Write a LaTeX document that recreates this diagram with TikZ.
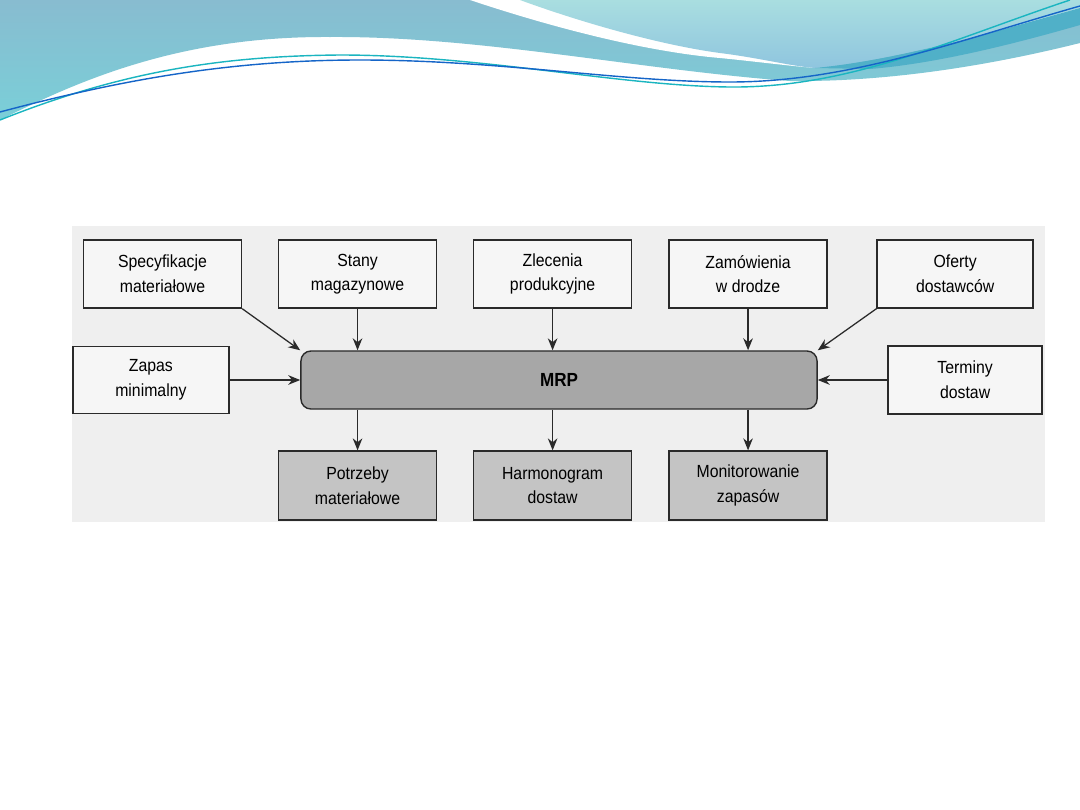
\documentclass[tikz,border=0pt]{standalone}
\usepackage{fontspec}
\setmainfont{Liberation Sans}[FakeStretch=0.9]
\usepackage{tikz}
\usepackage{xcolor}
\usetikzlibrary{arrows.meta,positioning}
\definecolor{WaveBlue}{HTML}{88BCD0}
\definecolor{WaveCyan}{HTML}{7ACFD8}
\definecolor{WaveLight}{HTML}{A9DEE0}
\definecolor{WaveLilac}{HTML}{8FC5DF}
\definecolor{WaveBand}{HTML}{50B0C8}
\definecolor{LineCyan}{HTML}{1AB5C0}
\definecolor{LineBlue}{HTML}{1565C8}
\definecolor{ScanGray}{HTML}{EFEFEF}
\definecolor{BoxWhite}{HTML}{F6F6F6}
\definecolor{OutGray}{HTML}{C4C4C4}
\definecolor{CoreGray}{HTML}{A7A7A7}
\definecolor{InkGray}{HTML}{2A2A2A}

\begin{document}
\begin{tikzpicture}[
  x=0.025cm,y=-0.025cm,
  font=\fontsize{12.5}{17.5}\selectfont,
  inbox/.style={draw=InkGray,fill=BoxWhite,line width=1pt,minimum width=3.95cm,minimum height=1.7cm,align=center,inner sep=1pt},
  outbox/.style={inbox,fill=OutGray,minimum height=1.72cm},
  core/.style={draw=InkGray,fill=CoreGray,line width=1pt,rounded corners=0.25cm,minimum width=12.9cm,minimum height=1.45cm,font=\fontsize{13.5}{14}\selectfont\bfseries},
  arrow/.style={-{Stealth[length=3mm,width=2.4mm]},line width=0.9pt,draw=InkGray}
]
\useasboundingbox (0,0) rectangle (1080,810);
\fill[white] (0,0) rectangle (1080,810);

% slide waves
\shade[top color=WaveBlue,bottom color=WaveCyan] (0,0) -- (1080,0) -- (1080,43)
  .. controls (980,68) and (880,82) .. (790,81)
  .. controls (640,70) and (480,36) .. (330,37)
  .. controls (180,36) and (80,80) .. (0,120) -- cycle;
\fill[white] (470,0) .. controls (560,30) and (650,52) .. (720,58)
  .. controls (760,62) and (790,66) .. (815,68) -- (1080,22) -- (1080,0) -- cycle;
\shade[top color=WaveLight,bottom color=WaveLilac] (520,0) .. controls (580,22) and (660,45) .. (720,53)
  .. controls (760,58) and (790,66) .. (815,68)
  .. controls (900,60) and (1000,30) .. (1080,8) -- (1080,0) -- cycle;
\fill[WaveBand] (815,68) .. controls (900,60) and (1000,30) .. (1080,8) -- (1080,25)
  .. controls (1000,48) and (930,64) .. (870,69) -- cycle;
\draw[LineCyan,line width=1pt] (0,120) .. controls (120,72) and (220,56) .. (340,55)
  .. controls (480,55) and (620,86) .. (730,87)
  .. controls (850,88) and (950,40) .. (1070,0);
\draw[LineBlue,line width=1pt] (0,112) .. controls (120,80) and (230,60) .. (360,60)
  .. controls (500,60) and (620,82) .. (730,82)
  .. controls (850,82) and (960,40) .. (1080,6);

% scanned figure
\fill[ScanGray] (72,226) rectangle (1045,522);

\node[core] (mrp) at (559,380) {MRP};
\node[inbox] (spec) at (162.5,274) {Specyfikacje\\materiałowe};
\node[inbox,right=0.89cm of spec] (stany) {Stany\\magazynowe};
\node[inbox,right=0.89cm of stany] (zlec) {Zlecenia\\produkcyjne};
\node[inbox,right=0.9cm of zlec] (zamow) {Zamówienia\\w drodze};
\node[inbox,right=1.215cm of zamow,minimum width=3.9cm] (oferty) {Oferty\\dostawców};
\node[inbox,left=1.765cm of mrp,minimum width=3.9cm,minimum height=1.68cm] (zapas) {Zapas\\minimalny};
\node[inbox,right=1.74cm of mrp,minimum width=3.85cm] (terminy) {Terminy\\dostaw};
\node[outbox,below=3.54cm of stany] (potrz) {Potrzeby\\materiałowe};
\node[outbox,below=3.54cm of zlec] (harmon) {Harmonogram\\dostaw};
\node[outbox,below=3.54cm of zamow] (monit) {Monitorowanie\\zapasów};

\draw[arrow] (spec.south east) -- (mrp.north west);
\draw[arrow] (stany.south) -- (stany.south |- mrp.north);
\draw[arrow] (zlec.south) -- (zlec.south |- mrp.north);
\draw[arrow] (zamow.south) -- (zamow.south |- mrp.north);
\draw[arrow] (oferty.south west) -- (mrp.north east);
\draw[arrow] (zapas.east) -- (zapas.east -| mrp.west);
\draw[arrow] (terminy.west) -- (terminy.west -| mrp.east);
\draw[arrow] (mrp.south -| potrz.north) -- (potrz.north);
\draw[arrow] (mrp.south -| harmon.north) -- (harmon.north);
\draw[arrow] (mrp.south -| monit.north) -- (monit.north);
\end{tikzpicture}
\end{document}
